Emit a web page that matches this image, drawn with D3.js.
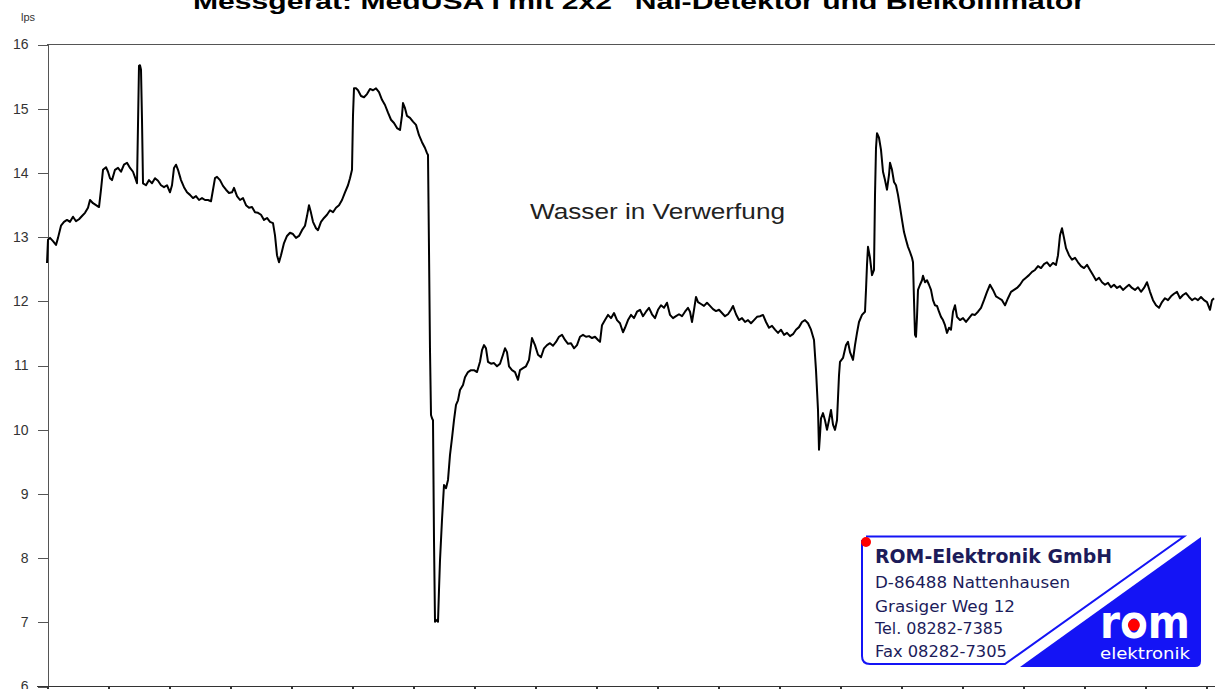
<!DOCTYPE html>
<html>
<head>
<meta charset="utf-8">
<script src="https://cdn.jsdelivr.net/npm/d3@7"></script>
<style>
  body { margin: 0; background: #fff; }
  svg { display: block; }
</style>
</head>
<body>
<script>
/*
Messwerte (Impulse pro Sekunde), abgelesen aus der Vorlage
[Messpunkt, lps]
*/
const readings = [
[0,12.59],[1,12.95],[3,12.98],[6,12.93],[9,12.87],[11,12.98],[14,13.17],[17,13.23],[20,13.26],[23,13.23],
[26,13.31],[29,13.24],[32,13.27],[35,13.32],[38,13.37],[41,13.45],[43,13.57],[46,13.52],[49,13.49],[52,13.46],
[54,13.73],[56,14.04],[59,14.08],[61,14.01],[63,13.91],[65,13.88],[68,14.04],[71,14.07],[74,14.01],[77,14.12],
[80,14.15],[83,14.07],[86,14.01],[89,13.88],[90,13.83],[91,14.74],[92,15.66],[93,15.67],[94,15.60],[95,14.82],
[96,13.83],[99,13.80],[102,13.88],[105,13.83],[108,13.91],[111,13.87],[114,13.80],[117,13.77],[120,13.80],[123,13.69],
[125,13.80],[127,14.07],[129,14.12],[131,14.04],[134,13.88],[137,13.77],[140,13.69],[143,13.65],[146,13.60],[149,13.63],
[152,13.57],[155,13.60],[158,13.57],[161,13.57],[164,13.55],[166,13.73],[168,13.91],[170,13.93],[173,13.88],[176,13.79],
[179,13.73],[182,13.68],[185,13.69],[187,13.76],[190,13.63],[193,13.57],[196,13.60],[199,13.49],[202,13.45],[205,13.46],
[208,13.38],[211,13.37],[214,13.34],[217,13.26],[220,13.29],[223,13.23],[226,13.21],[228,13.02],[230,12.71],[232,12.60],
[234,12.71],[237,12.90],[240,13.01],[243,13.06],[246,13.04],[249,12.98],[252,13.01],[255,13.10],[258,13.17],[260,13.32],
[262,13.49],[264,13.37],[266,13.23],[269,13.13],[271,13.10],[274,13.23],[277,13.29],[280,13.34],[283,13.41],[286,13.38],
[289,13.45],[292,13.49],[295,13.57],[298,13.69],[301,13.80],[303,13.91],[305,14.04],[306,14.89],[307,15.31],[309,15.31],
[311,15.28],[314,15.19],[317,15.17],[320,15.22],[323,15.30],[326,15.28],[329,15.31],[332,15.25],[335,15.13],[338,15.05],
[341,14.93],[344,14.82],[347,14.77],[350,14.69],[353,14.66],[355,14.89],[356,15.08],[358,15.00],[360,14.88],[363,14.85],
[366,14.79],[369,14.74],[372,14.58],[375,14.47],[378,14.38],[380,14.30],[381,14.27],[382,12.79],[383,11.23],[384,10.22],
[385,10.17],[386,10.14],[387,8.27],[388,7.00],[390,7.03],[391,7.00],[392,7.50],[393,7.96],[395,8.59],[397,9.13],
[399,9.08],[401,9.21],[403,9.60],[405,9.86],[407,10.14],[409,10.38],[411,10.45],[413,10.61],[416,10.69],[418,10.81],
[421,10.89],[424,10.92],[427,10.92],[430,10.89],[433,11.05],[435,11.23],[437,11.31],[439,11.26],[441,11.05],[444,11.02],
[447,11.03],[450,10.98],[453,11.02],[456,11.16],[458,11.26],[460,11.20],[462,10.98],[465,10.92],[468,10.89],[471,10.77],
[473,10.92],[476,10.95],[479,10.98],[482,11.08],[485,11.42],[488,11.31],[491,11.16],[494,11.12],[497,11.26],[500,11.31],
[503,11.34],[506,11.30],[509,11.36],[512,11.44],[515,11.47],[518,11.39],[521,11.33],[524,11.34],[527,11.26],[530,11.31],
[533,11.44],[536,11.47],[539,11.44],[542,11.45],[545,11.42],[548,11.44],[551,11.39],[553,11.36],[555,11.62],[558,11.70],
[561,11.78],[564,11.73],[567,11.81],[570,11.70],[573,11.65],[576,11.51],[578,11.58],[581,11.70],[584,11.78],[587,11.73],
[590,11.83],[593,11.86],[596,11.76],[599,11.83],[602,11.89],[605,11.79],[608,11.73],[611,11.86],[614,11.93],[617,11.89],
[620,11.97],[623,11.78],[626,11.73],[629,11.76],[632,11.79],[635,11.76],[638,11.83],[641,11.89],[643,11.83],[645,11.67],
[647,11.86],[649,12.06],[651,11.98],[654,11.95],[657,11.92],[660,11.97],[663,11.92],[666,11.87],[669,11.84],[672,11.86],
[675,11.81],[678,11.76],[681,11.79],[684,11.86],[686,11.92],[689,11.79],[692,11.70],[695,11.73],[698,11.67],[701,11.70],
[704,11.65],[707,11.70],[710,11.75],[713,11.76],[716,11.78],[719,11.67],[722,11.58],[725,11.61],[728,11.55],[731,11.50],
[734,11.55],[737,11.47],[740,11.50],[743,11.45],[746,11.48],[749,11.55],[752,11.59],[755,11.67],[758,11.70],[761,11.65],
[764,11.55],[767,11.39],[769,10.92],[771,10.30],[772,9.68],[773,9.91],[774,10.17],[776,10.25],[778,10.14],[780,9.99],
[782,10.14],[784,10.30],[786,10.07],[788,9.99],[790,10.14],[792,10.84],[793,11.05],[796,11.11],[799,11.31],[801,11.36],
[803,11.20],[806,11.08],[808,11.31],[810,11.50],[812,11.67],[815,11.78],[818,11.83],[819,12.17],[820,12.56],[821,12.84],
[823,12.67],[825,12.40],[827,12.48],[828,13.65],[829,14.38],[830,14.61],[832,14.54],[834,14.35],[836,14.01],[838,13.88],
[840,13.73],[842,13.96],[843,14.15],[845,14.04],[847,13.85],[849,13.80],[851,13.65],[853,13.46],[855,13.26],[857,13.07],
[859,12.95],[861,12.84],[863,12.76],[865,12.67],[866,12.60],[867,12.01],[868,11.47],[869,11.44],[870,11.75],[871,12.17],
[873,12.25],[875,12.32],[876,12.39],[878,12.29],[880,12.32],[882,12.25],[884,12.17],[886,12.01],[888,11.93],[890,11.92],
[892,11.83],[894,11.75],[896,11.70],[898,11.62],[900,11.50],[902,11.58],[904,11.55],[906,11.83],[908,11.93],[910,11.75],
[913,11.70],[916,11.73],[919,11.67],[922,11.73],[925,11.79],[928,11.78],[931,11.83],[934,11.89],[937,12.01],[940,12.14],
[943,12.25],[946,12.17],[949,12.07],[952,12.04],[955,12.01],[958,11.93],[961,12.04],[964,12.14],[967,12.17],[970,12.20],
[973,12.25],[976,12.32],[979,12.36],[982,12.40],[985,12.45],[988,12.48],[991,12.54],[994,12.51],[997,12.57],[1000,12.60],
[1003,12.54],[1006,12.59],[1009,12.56],[1011,12.71],[1013,13.02],[1015,13.13],[1017,12.98],[1019,12.82],[1022,12.71],[1025,12.64],
[1028,12.67],[1031,12.60],[1034,12.54],[1037,12.51],[1040,12.56],[1043,12.48],[1046,12.40],[1049,12.32],[1052,12.36],[1055,12.29],
[1058,12.25],[1061,12.28],[1064,12.21],[1067,12.25],[1070,12.20],[1073,12.23],[1076,12.17],[1079,12.21],[1082,12.25],[1085,12.20],
[1088,12.17],[1091,12.21],[1094,12.14],[1097,12.20],[1100,12.29],[1103,12.14],[1106,12.01],[1109,11.93],[1112,11.89],[1115,11.98],
[1118,12.04],[1121,12.01],[1124,12.07],[1127,12.11],[1130,12.14],[1133,12.04],[1136,12.09],[1139,12.12],[1142,12.06],[1145,12.01],
[1148,12.04],[1151,12.01],[1154,12.06],[1157,12.01],[1160,11.98],[1163,11.86],[1165,12.01],[1167,12.04]
];

const yTicks = [6, 7, 8, 9, 10, 11, 12, 13, 14, 15, 16];
const xTicks = d3.range(0, 1221, 61);

const title = 'Messgerät: MedUSA I mit 2x2" NaI-Detektor und Bleikollimator';
const unitLabel = 'lps';
const note = 'Wasser in Verwerfung';

const logoLines = [
  'ROM-Elektronik GmbH',
  'D-86488 Nattenhausen',
  'Grasiger Weg 12',
  'Tel. 08282-7385',
  'Fax 08282-7305'
];

const width = 1215;
const height = 689;
const margin = {top: 44, left: 47, bottom: 3};
const plotBottom = height - margin.bottom;

var svg = d3.select('body')
  .append('svg')
  .attr('width', width)
  .attr('height', height)
  .style('font-family', 'Arial, "Liberation Sans", sans-serif');

svg.append('rect')
  .attr('width', width)
  .attr('height', height)
  .attr('fill', '#fff');

// Scales and Axes

let x = d3.scaleLinear()
  .domain([0, 1220])
  .range([margin.left, margin.left + 1220]);

let y = d3.scaleLinear()
  .domain([6, 16])
  .range([plotBottom, margin.top]);

// top frame line
svg.append('line')
  .attr('x1', margin.left).attr('x2', width)
  .attr('y1', y(16) + 0.5).attr('y2', y(16) + 0.5)
  .attr('stroke', '#555')
  .attr('shape-rendering', 'crispEdges');

let yAxis = svg.append('g')
  .attr('transform', `translate(${margin.left + 0.5},0.5)`)
  .call(d3.axisLeft(y)
    .tickValues(yTicks)
    .tickSize(10)
    .tickSizeOuter(0)
    .tickPadding(9)
    .tickFormat(d3.format('d')));

yAxis.selectAll('path, line')
  .attr('stroke', '#555')
  .attr('shape-rendering', 'crispEdges');
yAxis.selectAll('text')
  .attr('font-size', 14)
  .attr('font-family', 'Arial, "Liberation Sans", sans-serif')
  .attr('fill', '#333');

let xAxis = svg.append('g')
  .attr('transform', `translate(0.5,${plotBottom + 0.5})`)
  .call(d3.axisBottom(x)
    .tickValues(xTicks)
    .tickSize(5)
    .tickSizeOuter(0)
    .tickFormat(''));

xAxis.select('.domain')
  .attr('d', `M${margin.left - 10 - 0.5},0H${width}`);
xAxis.selectAll('path, line')
  .attr('stroke', '#333')
  .attr('stroke-width', 1.5)
  .attr('shape-rendering', 'crispEdges');

// Messkurve

let line = d3.line()
  .x(d => x(d[0]))
  .y(d => y(d[1]));

svg.append('path')
  .datum(readings)
  .attr('d', line)
  .attr('fill', 'none')
  .attr('stroke', '#000')
  .attr('stroke-width', 2)
  .attr('stroke-linejoin', 'round');

// Texte

svg.append('text')
  .attr('x', 639)
  .attr('y', 9)
  .attr('text-anchor', 'middle')
  .attr('font-size', 22)
  .attr('font-weight', 'bold')
  .attr('textLength', 892)
  .attr('lengthAdjust', 'spacingAndGlyphs')
  .text(title);

svg.append('text')
  .attr('x', 28)
  .attr('y', 21)
  .attr('text-anchor', 'middle')
  .attr('font-size', 11)
  .attr('fill', '#333')
  .text(unitLabel);

svg.append('text')
  .attr('x', 530)
  .attr('y', 219)
  .attr('font-size', 22)
  .attr('fill', '#222')
  .attr('textLength', 255)
  .attr('lengthAdjust', 'spacingAndGlyphs')
  .text(note);

// Logo

const blue = '#1414f5';
const navy = '#1c1c5a';

let logo = svg.append('g').attr('id', 'logo');

logo.append('path')
  .attr('d', 'M862,540 L862,656 Q862,664 870,664 L1005,664 L1184,536.5 L866,536.5')
  .attr('fill', 'none')
  .attr('stroke', blue)
  .attr('stroke-width', 2);

logo.append('path')
  .attr('d', 'M1201,537 L1201,661 Q1201,667 1195,667 L1020,667 Z')
  .attr('fill', blue);

logo.append('circle')
  .attr('cx', 866).attr('cy', 542).attr('r', 5)
  .attr('fill', '#f00');

const lineSpec = [
  {y: 563, size: 19, len: 237, weight: 'bold'},
  {y: 588, size: 16, len: 195, weight: 'normal'},
  {y: 612, size: 16, len: 140, weight: 'normal'},
  {y: 634, size: 16, len: 128, weight: 'normal'},
  {y: 657, size: 16, len: 132, weight: 'normal'}
];

logo.selectAll('.logoLine').data(logoLines)
  .enter()
    .append('text')
    .attr('class', 'logoLine')
    .attr('x', 875)
    .attr('y', (d, i) => lineSpec[i].y)
    .attr('font-size', (d, i) => lineSpec[i].size)
    .attr('font-weight', (d, i) => lineSpec[i].weight)
    .attr('font-family', '"DejaVu Sans", Verdana, sans-serif')
    .attr('textLength', (d, i) => lineSpec[i].len)
    .attr('lengthAdjust', 'spacingAndGlyphs')
    .attr('fill', navy)
    .text(d => d);

let rom = logo.append('text')
  .attr('x', 1100)
  .attr('y', 638)
  .attr('font-size', 46)
  .attr('font-weight', 'bold')
  .attr('font-family', '"DejaVu Sans", Verdana, sans-serif')
  .attr('textLength', 90)
  .attr('lengthAdjust', 'spacingAndGlyphs')
  .attr('fill', '#fff')
  .text('rom');

// red dot sits in the middle of the "o"
let oStart = rom.node().getStartPositionOfChar(1).x;
let oEnd = rom.node().getEndPositionOfChar(1).x;

logo.append('circle')
  .attr('cx', (oStart + oEnd) / 2).attr('cy', 625).attr('r', 6)
  .attr('fill', '#f00');

logo.append('text')
  .attr('x', 1100)
  .attr('y', 659)
  .attr('font-size', 15)
  .attr('font-family', '"DejaVu Sans", Verdana, sans-serif')
  .attr('textLength', 90)
  .attr('lengthAdjust', 'spacingAndGlyphs')
  .attr('fill', '#fff')
  .text('elektronik');
</script>
</body>
</html>
